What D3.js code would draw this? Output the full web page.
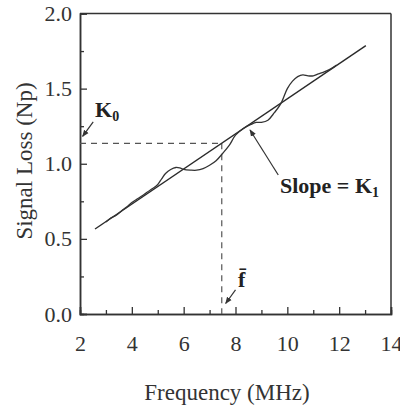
<!DOCTYPE html>
<html><head><meta charset="utf-8">
<script src="https://cdn.jsdelivr.net/npm/d3@7"></script>
<style>body{margin:0;background:#fff}svg{display:block}</style>
</head><body><svg id="c" width="400" height="409"></svg>
<script>
// ---- data ----
const xMajorTicks = [2, 4, 6, 8, 10, 12, 14];
const xMinorTicks = [3, 5, 7, 9, 11, 13];
const yMajorTicks = [0.0, 0.5, 1.0, 1.5, 2.0];
const yMinorTicks = [0.25, 0.75, 1.25, 1.75];
// measured signal loss (wavy curve)
const curveFreq = [3.0, 3.2, 3.4, 3.6, 3.8, 4.0, 4.2, 4.4, 4.6, 4.8, 5.0, 5.15, 5.3, 5.5, 5.7, 5.85, 6.0, 6.25, 6.5, 6.75, 7.0, 7.25, 7.5, 7.75, 8.0, 8.3, 8.6, 8.8, 9.0, 9.25, 9.5, 9.75, 10.0, 10.2, 10.4, 10.6, 10.8, 11.0, 11.2, 11.4, 11.6, 11.8, 11.9];
const curveLoss = [0.612, 0.640, 0.657, 0.686, 0.712, 0.742, 0.765, 0.787, 0.812, 0.835, 0.862, 0.900, 0.935, 0.962, 0.975, 0.972, 0.963, 0.958, 0.957, 0.968, 0.990, 1.020, 1.068, 1.120, 1.190, 1.235, 1.262, 1.275, 1.276, 1.290, 1.340, 1.400, 1.500, 1.550, 1.580, 1.592, 1.585, 1.585, 1.598, 1.610, 1.625, 1.645, 1.657];
// linear fit
const fitFreq = [2.58, 13.03];
const fitLoss = [0.566, 1.786];
// reference values
const fBar = 7.47;
const K0 = 1.136;

// ---- chart ----
const svg = d3.select("#c");
const L = 80, R = 391, T = 13.5, B = 314;
const x = d3.scaleLinear().domain([2, 14]).range([L, R]);
const y = d3.scaleLinear().domain([0, 2]).range([B, T]);
const axisColor = "#333";
const serif = "'Liberation Serif', 'Times New Roman', serif";

// frame (top + right)
svg.append("line").attr("x1", L).attr("x2", R).attr("y1", T).attr("y2", T).attr("stroke", axisColor).attr("stroke-width", 1.5);
svg.append("line").attr("x1", R).attr("x2", R).attr("y1", T).attr("y2", B).attr("stroke", axisColor).attr("stroke-width", 1.5);

function styleAxis(g) {
  g.select(".domain").attr("stroke", axisColor).attr("stroke-width", 1.5);
  g.selectAll(".tick line").attr("stroke", axisColor).attr("stroke-width", 1.3);
  g.selectAll("text").attr("fill", "#333").attr("font-family", serif).attr("font-size", 22);
}

const gxMinor = svg.append("g").attr("transform", `translate(0,${B})`)
  .call(d3.axisBottom(x).tickValues(xMinorTicks).tickSize(-4).tickFormat(""));
styleAxis(gxMinor);
const gx = svg.append("g").attr("transform", `translate(0,${B})`)
  .call(d3.axisBottom(x).tickValues(xMajorTicks).tickSize(-7).tickPadding(21).tickFormat(d3.format("d")));
styleAxis(gx);

const gyMinor = svg.append("g").attr("transform", `translate(${L},0)`)
  .call(d3.axisLeft(y).tickValues(yMinorTicks).tickSize(-4).tickFormat(""));
styleAxis(gyMinor);
const gy = svg.append("g").attr("transform", `translate(${L},0)`)
  .call(d3.axisLeft(y).tickValues(yMajorTicks).tickSize(-7).tickPadding(8).tickFormat(d3.format(".1f")));
styleAxis(gy);

// axis titles
svg.append("text").attr("x", 227).attr("y", 400).attr("text-anchor", "middle")
  .attr("font-family", serif).attr("font-size", 23).attr("fill", "#333").text("Frequency (MHz)");
svg.append("text").attr("transform", "translate(32,161) rotate(-90)").attr("text-anchor", "middle")
  .attr("font-family", serif).attr("font-size", 23).attr("fill", "#333").text("Signal Loss (Np)");

// dashed reference lines
svg.append("line").attr("x1", x(2)).attr("x2", x(fBar)).attr("y1", y(K0)).attr("y2", y(K0))
  .attr("stroke", "#555").attr("stroke-width", 1.2).attr("stroke-dasharray", "6,5");
svg.append("line").attr("x1", x(fBar)).attr("x2", x(fBar)).attr("y1", y(K0)).attr("y2", y(0))
  .attr("stroke", "#555").attr("stroke-width", 1.2).attr("stroke-dasharray", "6,5");

// fit line
const lineGen = d3.line().x(d => x(d[0])).y(d => y(d[1]));
svg.append("path").datum(d3.zip(fitFreq, fitLoss)).attr("d", lineGen)
  .attr("fill", "none").attr("stroke", "#2a2a2a").attr("stroke-width", 1.4);
// measured curve
svg.append("path").datum(d3.zip(curveFreq, curveLoss)).attr("d", lineGen.curve(d3.curveCatmullRom))
  .attr("fill", "none").attr("stroke", "#333").attr("stroke-width", 1.3);

// arrows
svg.append("defs").append("marker").attr("id", "ah").attr("viewBox", "0 0 10 10")
  .attr("refX", 9).attr("refY", 5).attr("markerWidth", 7).attr("markerHeight", 7)
  .attr("markerUnits", "userSpaceOnUse").attr("orient", "auto")
  .append("path").attr("d", "M0,1 L10,5 L0,9 Z").attr("fill", "#333");
function arrow(x1, y1, x2, y2) {
  svg.append("line").attr("x1", x(x1)).attr("y1", y(y1)).attr("x2", x(x2)).attr("y2", y(y2))
    .attr("stroke", "#333").attr("stroke-width", 1.2).attr("marker-end", "url(#ah)");
}
arrow(2.51, 1.278, 2.1, 1.182);     // K0
arrow(9.65, 0.925, 8.56, 1.225);    // slope
arrow(8.0, 0.16, 7.62, 0.07);       // f bar

// labels
const k0 = svg.append("text").attr("x", x(2.58)).attr("y", y(1.313))
  .attr("font-family", serif).attr("font-size", 22).attr("font-weight", "bold").attr("fill", "#222");
k0.append("tspan").text("K");
k0.append("tspan").attr("font-size", 14).attr("dy", 4).text("0");

const sl = svg.append("text").attr("x", 280).attr("y", y(0.805))
  .attr("font-family", serif).attr("font-size", 22).attr("font-weight", "bold").attr("fill", "#222");
sl.append("tspan").text("Slope = K");
sl.append("tspan").attr("font-size", 14).attr("dy", 4).text("1");

svg.append("text").attr("x", x(8.1)).attr("y", y(0.18))
  .attr("font-family", serif).attr("font-size", 22).attr("font-weight", "bold").attr("fill", "#222")
  .text("f\u0304");
</script></body></html>
